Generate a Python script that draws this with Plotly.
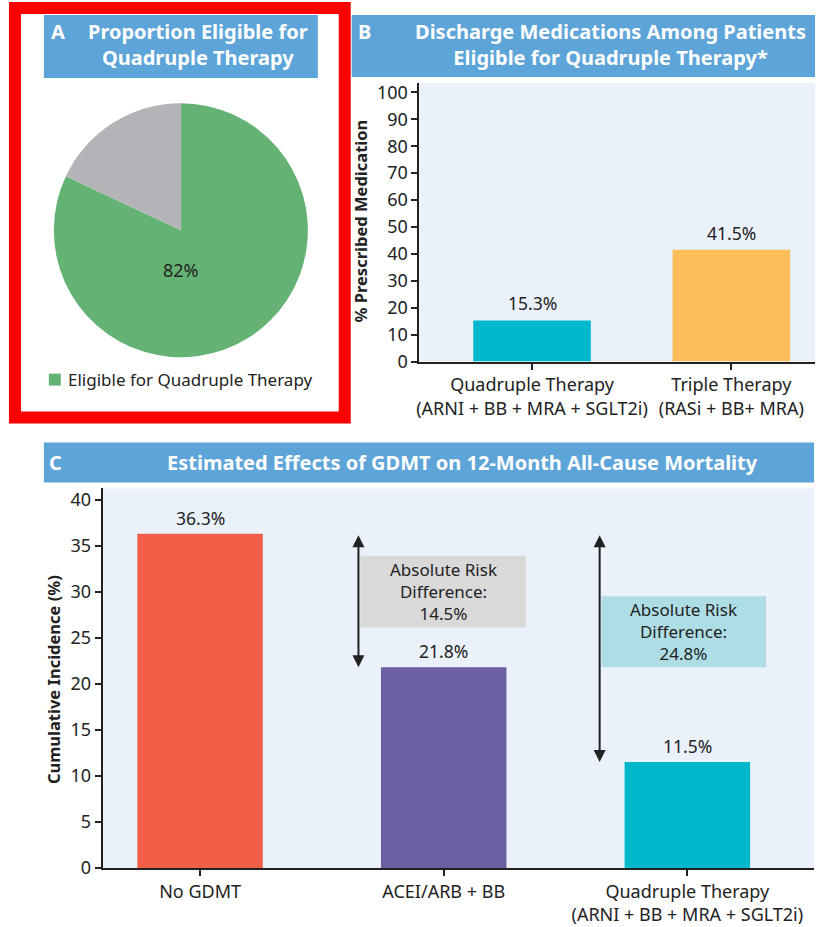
import plotly.graph_objects as go

# ---- data ----
pie_labels = ['Eligible for Quadruple Therapy', 'Not eligible']
pie_values = [82, 18]

b_categories = ['Quadruple Therapy<br>(ARNI + BB + MRA + SGLT2i)', 'Triple Therapy<br>(RASi + BB+ MRA)']
b_values = [15.3, 41.5]

c_categories = ['No GDMT', 'ACEI/ARB + BB', 'Quadruple Therapy<br>(ARNI + BB + MRA + SGLT2i)']
c_values = [36.3, 21.8, 11.5]
risk_diffs = [14.5, 24.8]

# layout is worked out on a 820x927 grid (the reference); the capture squeezes the page
# vertically a little, so the figure itself is drawn a bit taller
REF_W, REF_H = 820, 927
W, H = 820, 940
DX, DY = 2, 3  # small nudge up/left seen in the captures
FONT = 'Noto Sans'
header_blue = '#5da4d9'
text_dark = '#222222'


def px(x):
    return (x - DX) / REF_W


def py(y):
    return 1 - (y - DY) / REF_H


def note(text, x, y, **kw):
    d = dict(text=text, x=px(x), y=py(y), xref='paper', yref='paper', showarrow=False,
             xanchor='center', yanchor='middle')
    d.update(kw)
    return d


fig = go.Figure()

# Panel A pie
fig.add_trace(go.Pie(
    labels=pie_labels, values=pie_values, sort=False, direction='clockwise', rotation=0,
    marker=dict(colors=['#64b375', '#b4b4b8'], line=dict(width=0)),
    textinfo='none', hoverinfo='label+percent', showlegend=False,
    domain=dict(x=[px(53), px(308)], y=[py(358), py(103)])
))

# Panel B bars
fig.add_trace(go.Bar(
    x=[0, 1], y=b_values, width=0.59, marker=dict(color=['#00b8cb', '#fcbe5b'], line=dict(width=0)),
    xaxis='x', yaxis='y', showlegend=False
))

# Panel C bars
fig.add_trace(go.Bar(
    x=[0, 1, 2], y=c_values, width=0.515, marker=dict(color=['#f15f49', '#6a5fa0', '#00b8cb'], line=dict(width=0)),
    xaxis='x2', yaxis='y2', showlegend=False
))

axis_common = dict(showline=True, linecolor=text_dark, linewidth=2, ticks='outside', ticklen=6,
                   tickwidth=2, tickcolor=text_dark, showgrid=False, zeroline=False,
                   tickfont=dict(family=FONT, size=18, color=text_dark))

fig.update_layout(
    width=W, height=H, margin=dict(l=0, r=0, t=0, b=0),
    paper_bgcolor='white', plot_bgcolor='#eaf1fa',
    font=dict(family=FONT, color=text_dark),
    xaxis=dict(domain=[px(420), px(817)], anchor='y', range=[-0.565, 1.42],
               tickvals=[0, 1], ticktext=b_categories, **axis_common),
    yaxis=dict(domain=[py(362), py(83)], anchor='x', range=[0, 103.5], dtick=10, **axis_common),
    xaxis2=dict(domain=[px(102), px(816)], anchor='y2', range=[-0.40, 2.52],
                tickvals=[0, 1, 2], ticktext=c_categories, **axis_common),
    yaxis2=dict(domain=[py(869), py(489)], anchor='x2', range=[0, 41.2], dtick=5, **axis_common),
)

shapes = []
annotations = []

# red frame around panel A
shapes.append(dict(type='rect', xref='paper', yref='paper', x0=px(14), x1=px(345), y0=py(418), y1=py(8),
                   line=dict(color='#ff0000', width=12)))

# header boxes
for (x0, x1, y0, y1) in [(43, 318, 15, 78), (352, 817, 15, 77), (43, 816, 443, 483)]:
    shapes.append(dict(type='rect', xref='paper', yref='paper', x0=px(x0), x1=px(x1), y0=py(y1), y1=py(y0),
                       fillcolor=header_blue, line=dict(width=0), layer='below'))

head_font = dict(family=FONT, size=20, color='white')
annotations += [
    note('<b>A</b>', 57, 32, font=head_font),
    note('<b>Proportion Eligible for<br>Quadruple Therapy</b>', 198, 45, font=head_font, align='center'),
    note('<b>B</b>', 365, 32, font=head_font),
    note('<b>Discharge Medications Among Patients<br>Eligible for Quadruple Therapy*</b>', 612, 45,
         font=head_font, align='center'),
    note('<b>C</b>', 55, 463, font=head_font),
    note('<b>Estimated Effects of GDMT on 12-Month All-Cause Mortality</b>', 463, 463, font=head_font),
]

# pie label and legend
annotations.append(note(f'{pie_values[0]}%', 181, 270, font=dict(family=FONT, size=18, color=text_dark)))
shapes.append(dict(type='rect', xref='paper', yref='paper', x0=px(48), x1=px(60), y0=py(386), y1=py(374),
                   fillcolor='#64b375', line=dict(width=0)))
annotations.append(note(pie_labels[0], 65, 380, xanchor='left', font=dict(family=FONT, size=17, color=text_dark)))

# axis titles
annotations.append(note('<b>% Prescribed Medication</b>', 361, 221, textangle=-90,
                        font=dict(family=FONT, size=16.5, color=text_dark)))
annotations.append(note('<b>Cumulative Incidence (%)</b>', 52, 680, textangle=-90,
                        font=dict(family=FONT, size=16.5, color=text_dark)))

# value labels
val_font = dict(family=FONT, size=17.5, color=text_dark)
for i, v in enumerate(b_values):
    annotations.append(dict(text=f'{v}%', x=i, y=v, xref='x', yref='y', yshift=17, showarrow=False, font=val_font))
for i, v in enumerate(c_values):
    annotations.append(dict(text=f'{v}%', x=i, y=v, xref='x2', yref='y2', yshift=16, showarrow=False, font=val_font))

# risk difference arrows and boxes
arrow_x = [0.65, 1.64]
box_pos = [(0.658, 1.337, 26.1, 33.9, '#d9d9d9'), (1.648, 2.323, 21.8, 29.5, '#aedde6')]
for k, diff in enumerate(risk_diffs):
    x0, x1, y0, y1, col = box_pos[k]
    shapes.append(dict(type='rect', xref='x2', yref='y2', x0=x0, x1=x1, y0=y0, y1=y1,
                       fillcolor=col, line=dict(width=0), layer='below'))
    annotations.append(dict(text=f'Absolute Risk<br>Difference:<br>{diff}%', x=(x0 + x1) / 2, y=(y0 + y1) / 2,
                            xref='x2', yref='y2', showarrow=False, align='center',
                            font=dict(family=FONT, size=17, color=text_dark)))
    annotations.append(dict(text='', x=arrow_x[k], y=c_values[k + 1], ax=arrow_x[k], ay=c_values[0],
                            xref='x2', yref='y2', axref='x2', ayref='y2', showarrow=True,
                            arrowhead=2, startarrowhead=2, arrowside='end+start', arrowsize=1.2,
                            arrowwidth=2, arrowcolor=text_dark, standoff=0, startstandoff=0))

fig.update_layout(shapes=shapes, annotations=annotations)

# drop the browser's default 8px body margin so the figure starts at the window corner
fig.write_html('out.html', config={'displayModeBar': False},
               post_script="document.body.style.margin='0';")
